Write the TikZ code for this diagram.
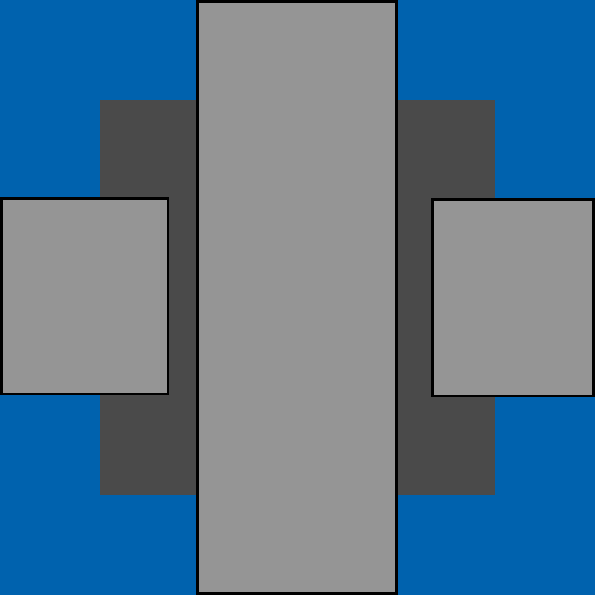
\documentclass[tikz,border=0pt]{standalone}
\definecolor{bgblue}{HTML}{0062AE}
\definecolor{darkg}{HTML}{4A4A4A}
\definecolor{lightg}{HTML}{959595}
\begin{document}
\begin{tikzpicture}[x=1pt,y=-1pt,
  box/.style={fill=lightg,draw=black,line width=2.8pt}]
\fill[bgblue] (0,0) rectangle (595,595);
\useasboundingbox (0,0) rectangle (595,595);
\fill[darkg] (100,100) rectangle (495,495);
\draw[box] (197.5,1.5) rectangle (396.5,593.5);
\draw[box] (1.5,198.5) rectangle (168,394);
\draw[box] (432.5,199.5) rectangle (593.5,396);
\end{tikzpicture}
\end{document}
